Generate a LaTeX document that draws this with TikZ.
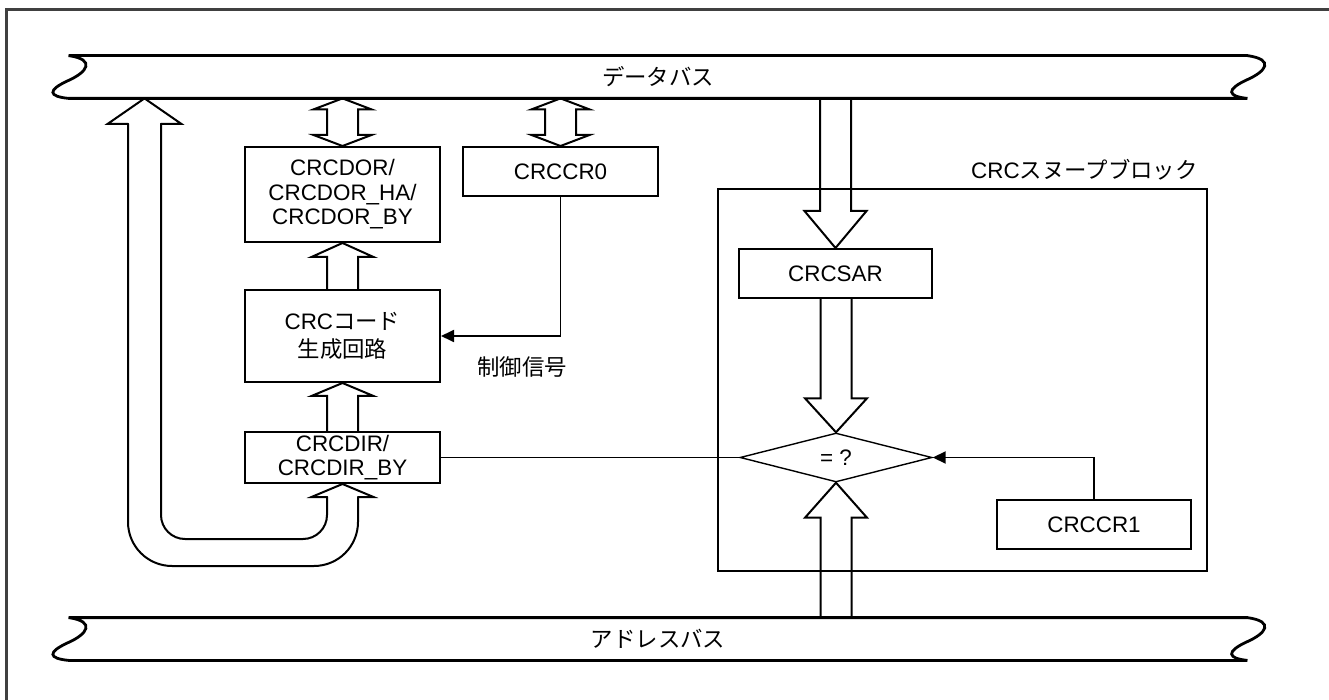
\documentclass[tikz,border=0pt]{standalone}
\usepackage{fontspec}
\setmainfont{Liberation Sans}
\newfontfamily\jp{Noto Sans CJK JP}
\usetikzlibrary{shapes.geometric,arrows.meta,calc}
\definecolor{FrameGray}{HTML}{404040}

% hollow block arrows (vertical), #3 = head length
\newcommand{\fatup}[3]{%
  \draw[fatarrow] let \p1=(#1), \p2=(#2) in
    (\x2-7.75pt,\y1) -- (\x2-7.75pt,\y2-#3) -- (\x2-15.5pt,\y2-#3)
    -- (\x2,\y2) -- (\x2+15.5pt,\y2-#3) -- (\x2+7.75pt,\y2-#3)
    -- (\x2+7.75pt,\y1);}
\newcommand{\fatdown}[3]{%
  \draw[fatarrow] let \p1=(#1), \p2=(#2) in
    (\x2-7.75pt,\y1) -- (\x2-7.75pt,\y2+#3) -- (\x2-15.5pt,\y2+#3)
    -- (\x2,\y2) -- (\x2+15.5pt,\y2+#3) -- (\x2+7.75pt,\y2+#3)
    -- (\x2+7.75pt,\y1);}
\newcommand{\fatboth}[3]{%
  \draw[fatarrow] let \p1=(#1), \p2=(#2) in
    (\x1-7.75pt,\y1+#3) -- (\x1-14.5pt,\y1+#3) -- (\x1,\y1)
    -- (\x1+14.5pt,\y1+#3) -- (\x1+7.75pt,\y1+#3) -- (\x1+7.75pt,\y2-#3)
    -- (\x1+14.5pt,\y2-#3) -- (\x1,\y2) -- (\x1-14.5pt,\y2-#3)
    -- (\x1-7.75pt,\y2-#3) -- cycle;}
% bus outline with wavy ends
\newcommand{\busshape}[1]{%
  \draw[busline] (#1.north west) -- (#1.north east)
    .. controls +(28,4) and +(18,-8) .. ++(0,24)
    .. controls +(-22,10) and +(-20,-2) .. (#1.south east)
    -- (#1.south west)
    .. controls +(-20,-2) and +(-22,10) .. ++(0,-18)
    .. controls +(18,-8) and +(28,4) .. (#1.north west) -- cycle;}

\begin{document}
\begin{tikzpicture}[x=0.5pt,y=-0.5pt,
  every node/.style={font=\fontsize{11.2}{12.3}\selectfont},
  reg/.style={draw,line width=1pt,minimum width=97.5pt,align=center,inner sep=0pt},
  bus/.style={minimum width=589pt,minimum height=21pt,inner sep=0pt},
  busline/.style={line width=1.4pt},
  fatarrow/.style={line width=1pt,line cap=round},
  sig/.style={line width=0.9pt,-{Triangle[length=6.5pt,width=6pt]}}]
  \useasboundingbox (0,0) rectangle (1329,700);
  \draw[FrameGray,line width=1.1pt] (6.5,700) -- (6.5,9.5) -- (1329,9.5);

  % buses
  \node[bus] (dbus) at (658,77) {\jp データバス};
  \node[bus] (abus) at (658,639) {\jp アドレスバス};
  \busshape{dbus}
  \busshape{abus}

  % registers
  \node[reg,minimum height=47.5pt] (dor) at (342.5,194.5) {CRCDOR/\\CRCDOR\_HA/\\CRCDOR\_BY};
  \node[reg,minimum height=46pt] (code) at (342.5,336) {CRC{\jp コード}\\[2pt]{\jp 生成回路}};
  \node[reg,minimum height=25.5pt] (dir) at (342.5,457.5) {CRCDIR/\\CRCDIR\_BY};
  \node[reg,minimum height=24.5pt] (cr0) at (560.5,171.5) {CRCCR0};

  % snoop block
  \node[draw,line width=1pt,minimum width=244.5pt,minimum height=191pt] (snoop) at (962.5,380) {};
  \node[anchor=south east,inner sep=0pt] (snooplbl) at ($(snoop.north east)+(-10,-7)$) {CRC{\jp スヌープブロック}};
  \node[reg,minimum width=96.5pt,minimum height=24.5pt] (sar) at (835.5,273.5) {CRCSAR};
  \node[diamond,draw,line width=0.7pt,shape aspect=4,minimum width=96pt,minimum height=24.5pt,inner sep=0pt] (cmp) at (836,457.5) {= ?};
  \node[reg,minimum width=97pt,minimum height=24.5pt] (cr1) at (1094,524.5) {CRCCR1};

  % block arrows
  \foreach \reg in {dor,cr0} {\fatboth{\reg.north}{dbus.south -| \reg.north}{5.5pt}}
  \fatup{code.north}{dor.south}{7pt}
  \fatup{dir.north}{code.south}{6.5pt}
  \fatdown{dbus.south -| sar.north}{sar.north}{18.5pt}
  \fatdown{sar.south}{cmp.north}{17pt}
  \fatup{abus.north -| cmp.south}{cmp.south}{17.5pt}

  % loop back from data bus to CRCDIR
  \coordinate (utip) at (dbus.south -| 144.5,0);
  \draw[fatarrow] (128,124) -- (107.5,124) -- (utip) -- (181.5,124) -- (161,124);
  \draw[fatarrow,rounded corners=12pt] (161,124) -- (161,539) -- (327,539) -- (327,497);
  \draw[fatarrow,rounded corners=22pt] (128,124) -- (128,566) -- (358,566) -- (358,497);
  \draw[fatarrow] (327,497) -- (311.5,497) -- (dir.south) -- (373.5,497) -- (358,497);

  % signals
  \draw[sig] (cr0.south) |- (code.east) node[pos=0.66,below=6.5pt] {\jp 制御信号};
  \draw[sig] (cr1.north) |- (cmp.east);
  \draw[line width=0.9pt] (dir.east) -- (cmp.west);
\end{tikzpicture}
\end{document}
